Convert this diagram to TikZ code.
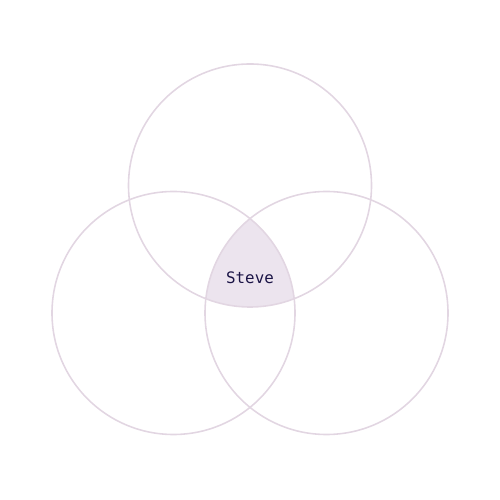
\documentclass[tikz,border=0pt]{standalone}
\usepackage{fontspec}
\newfontfamily\monofont{DejaVu Sans Mono}
\definecolor{ringc}{HTML}{E2D6E2}
\definecolor{fillc}{HTML}{ECE4EE}
\definecolor{textc}{HTML}{1B1446}
\begin{document}
\begin{tikzpicture}[
  ring/.style={circle, draw=ringc, line width=0.9pt, minimum size=4.86cm, inner sep=0pt},
  lbl/.style={font=\monofont\fontsize{9}{11}\selectfont, text=textc}
]
\useasboundingbox (0,0) rectangle (10,10);
\coordinate (ct) at (5.0,6.29);
\coordinate (cl) at (3.47,3.74);
\coordinate (cr) at (6.53,3.74);
\begin{scope}
  \clip (ct) circle (2.43);
  \clip (cl) circle (2.43);
  \fill[fillc] (cr) circle (2.43);
\end{scope}
\node[ring] (top) at (ct) {};
\node[ring] (left) at (cl) {};
\node[ring] (right) at (cr) {};
\node[lbl] (steve) at (5.0,4.44) {Steve};
\end{tikzpicture}
\end{document}
